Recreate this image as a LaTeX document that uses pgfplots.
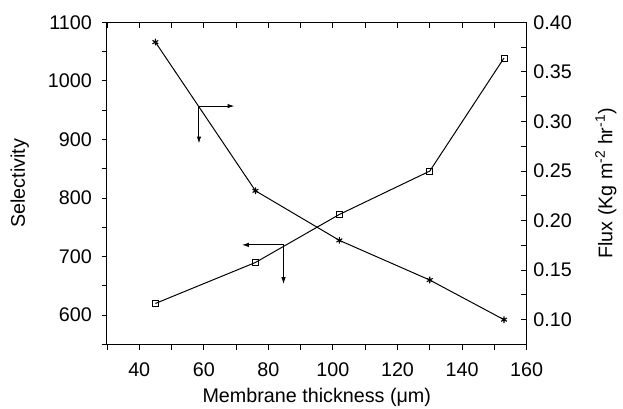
\documentclass[border=0pt]{standalone}
\usepackage{fontspec}
\setmainfont{Liberation Sans}
\usepackage{pgfplots}
\pgfplotsset{compat=1.18}
\usetikzlibrary{arrows.meta}
\begin{document}
\fontsize{20}{24}\selectfont
\begin{tikzpicture}
\pgfplotsset{
  common/.style={
    scale only axis, width=423.7bp, height=325.3bp,
    xmin=30, xmax=160,
    /pgf/number format/assume math mode=true,
    /pgf/number format/1000 sep={},
    axis line style={line width=1bp},
    every tick/.style={line width=0.9bp, black},
    major tick length=5.5bp, minor tick length=5.5bp,
    tick label style={font=\fontsize{20}{24}\selectfont},
    label style={font=\fontsize{20}{24}\selectfont},
  }
}
\begin{axis}[common,
  axis x line*=bottom, axis y line*=left,
  tick align=outside,
  ymin=550, ymax=1100,
  xtick={40,60,...,160}, minor xtick={30,50,...,150},
  ytick={600,700,...,1100}, minor ytick={550,650,...,1050},
  xticklabel style={yshift=-6bp},
  yticklabel style={xshift=-3bp},
  xlabel={Membrane thickness (μm)},
  ylabel={Selectivity},
  xlabel style={at={(rel axis cs:0.5,-0.164)}, anchor=center},
  ylabel style={at={(rel axis cs:-0.2077,0.5)}, anchor=center},
]
\addplot[black, line width=1bp, mark=square, mark size=3.1bp, mark options={solid, fill=white, line width=0.8bp}]
  coordinates {(45,620) (76,690) (102,772) (130,846) (153,1039)};
\draw[line width=1bp, -{Latex[length=7bp,width=4.5bp]}] (axis cs:58.5,957) -- (axis cs:69.5,957);
\draw[line width=1bp, -{Latex[length=7bp,width=4.5bp]}] (axis cs:58.5,957) -- (axis cs:58.5,893);
\draw[line width=1bp, -{Latex[length=7bp,width=4.5bp]}] (axis cs:84.7,720) -- (axis cs:71.8,720);
\draw[line width=1bp, -{Latex[length=7bp,width=4.5bp]}] (axis cs:84.7,720) -- (axis cs:84.7,653);
\end{axis}
\begin{axis}[common,
  axis x line*=top, axis y line*=right,
  tick align=inside,
  ymin=0.075, ymax=0.40,
  xtick={30,40,...,160}, xticklabels={},
  ytick={0.10,0.15,...,0.40}, minor ytick={0.125,0.175,...,0.375},
  yticklabel style={/pgf/number format/.cd, fixed, fixed zerofill, precision=2},
  ylabel={Flux (Kg m\textsuperscript{-2} hr\textsuperscript{-1})},
  ylabel style={at={(rel axis cs:1.1888,0.5)}, anchor=center},
]
\addplot[black, line width=1bp, mark=asterisk, mark size=3.4bp, mark options={solid, line width=1.1bp}]
  coordinates {(45,0.380) (76,0.230) (102,0.180) (130,0.140) (153,0.100)};
\pgfresetboundingbox
\path (rel axis cs:0,0) ++(-108bp,-64.5bp) coordinate (bbA);
\path (rel axis cs:1,1) ++(91.3bp,22.5bp) coordinate (bbB);
\end{axis}
\useasboundingbox (bbA) rectangle (bbB);
\end{tikzpicture}
\end{document}
